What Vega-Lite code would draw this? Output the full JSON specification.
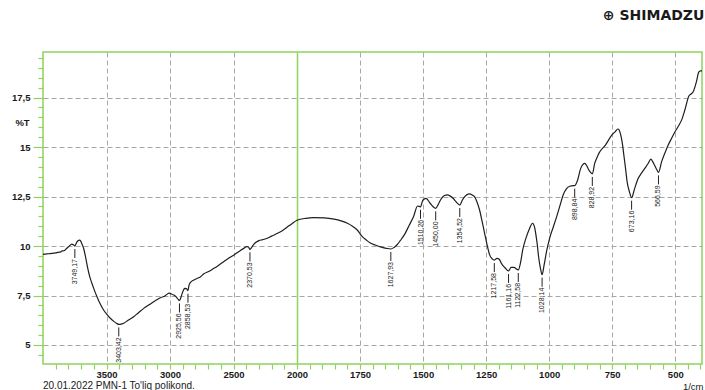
{
  "$schema": "https://vega.github.io/schema/vega-lite/v6.json",
  "width": 659,
  "height": 312,
  "autosize": {"type": "none"},
  "padding": {"left": 43, "top": 52, "right": 3, "bottom": 26},
  "background": "#ffffff",
  "config": {
    "view": {"stroke": "#8fd35c", "strokeWidth": 1.5},
    "font": "Liberation Sans"
  },
  "title": {
    "text": "⊕ SHIMADZU",
    "orient": "top",
    "anchor": "end",
    "offset": 22,
    "baseline": "middle",
    "font": "DejaVu Sans",
    "fontSize": 14,
    "fontWeight": "bold",
    "color": "#1a1a1a"
  },
  "datasets": {
    "spectrum": [
      {"wn": 4000, "t": 9.58}, {"wn": 3970, "t": 9.6}, {"wn": 3945, "t": 9.62}, {"wn": 3900, "t": 9.65},
      {"wn": 3881, "t": 9.68}, {"wn": 3860, "t": 9.7}, {"wn": 3850, "t": 9.75}, {"wn": 3835, "t": 9.76},
      {"wn": 3818, "t": 9.85}, {"wn": 3795, "t": 9.98}, {"wn": 3773, "t": 10.1}, {"wn": 3760, "t": 10.06},
      {"wn": 3749.17, "t": 10.0}, {"wn": 3735, "t": 10.18}, {"wn": 3722, "t": 10.28}, {"wn": 3713, "t": 10.3},
      {"wn": 3703, "t": 10.25}, {"wn": 3693, "t": 10.1}, {"wn": 3681, "t": 9.9}, {"wn": 3665, "t": 9.45},
      {"wn": 3650, "t": 8.95}, {"wn": 3632, "t": 8.45}, {"wn": 3615, "t": 8.12}, {"wn": 3595, "t": 7.76},
      {"wn": 3575, "t": 7.44}, {"wn": 3550, "t": 7.08}, {"wn": 3523, "t": 6.77}, {"wn": 3495, "t": 6.53},
      {"wn": 3470, "t": 6.35}, {"wn": 3440, "t": 6.18}, {"wn": 3417, "t": 6.08}, {"wn": 3403.42, "t": 6.04},
      {"wn": 3385, "t": 6.05}, {"wn": 3365, "t": 6.1}, {"wn": 3330, "t": 6.25}, {"wn": 3286, "t": 6.43},
      {"wn": 3250, "t": 6.62}, {"wn": 3207, "t": 6.85}, {"wn": 3165, "t": 7.03}, {"wn": 3128, "t": 7.19},
      {"wn": 3100, "t": 7.3}, {"wn": 3075, "t": 7.39}, {"wn": 3040, "t": 7.48}, {"wn": 3020, "t": 7.58},
      {"wn": 3009, "t": 7.62}, {"wn": 2990, "t": 7.58}, {"wn": 2970, "t": 7.52}, {"wn": 2950, "t": 7.42},
      {"wn": 2935, "t": 7.3}, {"wn": 2925.56, "t": 7.25}, {"wn": 2915, "t": 7.38}, {"wn": 2904, "t": 7.61},
      {"wn": 2890, "t": 7.82}, {"wn": 2885, "t": 7.86}, {"wn": 2870, "t": 7.85}, {"wn": 2858.53, "t": 7.74},
      {"wn": 2851, "t": 8.0}, {"wn": 2840, "t": 8.15}, {"wn": 2812, "t": 8.28}, {"wn": 2780, "t": 8.38},
      {"wn": 2759, "t": 8.45}, {"wn": 2733, "t": 8.6}, {"wn": 2700, "t": 8.7}, {"wn": 2660, "t": 8.85},
      {"wn": 2627, "t": 8.98}, {"wn": 2575, "t": 9.22}, {"wn": 2530, "t": 9.42}, {"wn": 2496, "t": 9.55},
      {"wn": 2450, "t": 9.75}, {"wn": 2420, "t": 9.88}, {"wn": 2395, "t": 9.97}, {"wn": 2382, "t": 9.95},
      {"wn": 2370.53, "t": 9.83}, {"wn": 2360, "t": 9.9}, {"wn": 2345, "t": 10.05}, {"wn": 2320, "t": 10.2},
      {"wn": 2300, "t": 10.27}, {"wn": 2270, "t": 10.32}, {"wn": 2240, "t": 10.38}, {"wn": 2200, "t": 10.5},
      {"wn": 2153, "t": 10.64}, {"wn": 2110, "t": 10.8}, {"wn": 2074, "t": 10.97}, {"wn": 2040, "t": 11.13},
      {"wn": 2000, "t": 11.3}, {"wn": 1965, "t": 11.4}, {"wn": 1933, "t": 11.43}, {"wn": 1892, "t": 11.42},
      {"wn": 1853, "t": 11.36}, {"wn": 1825, "t": 11.27}, {"wn": 1800, "t": 11.15}, {"wn": 1780, "t": 11.0},
      {"wn": 1761, "t": 10.81}, {"wn": 1741, "t": 10.47}, {"wn": 1725, "t": 10.3}, {"wn": 1709, "t": 10.15},
      {"wn": 1690, "t": 10.05}, {"wn": 1669, "t": 9.96}, {"wn": 1645, "t": 9.88}, {"wn": 1627.93, "t": 9.85},
      {"wn": 1615, "t": 9.93}, {"wn": 1604, "t": 10.05}, {"wn": 1590, "t": 10.28}, {"wn": 1571, "t": 10.64},
      {"wn": 1555, "t": 11.05}, {"wn": 1538, "t": 11.48}, {"wn": 1522, "t": 12.02}, {"wn": 1510.26, "t": 11.98},
      {"wn": 1501, "t": 12.32}, {"wn": 1488, "t": 12.41}, {"wn": 1472, "t": 12.16}, {"wn": 1460, "t": 11.98},
      {"wn": 1450, "t": 11.9}, {"wn": 1438, "t": 12.15}, {"wn": 1427, "t": 12.41}, {"wn": 1415, "t": 12.55},
      {"wn": 1404, "t": 12.58}, {"wn": 1392, "t": 12.52}, {"wn": 1381, "t": 12.41}, {"wn": 1368, "t": 12.22},
      {"wn": 1354.52, "t": 12.07}, {"wn": 1345, "t": 12.3}, {"wn": 1335, "t": 12.49}, {"wn": 1318, "t": 12.63},
      {"wn": 1305, "t": 12.58}, {"wn": 1296, "t": 12.49}, {"wn": 1287, "t": 12.25}, {"wn": 1276, "t": 11.82},
      {"wn": 1266, "t": 11.25}, {"wn": 1256, "t": 10.64}, {"wn": 1246, "t": 10.05}, {"wn": 1236, "t": 9.55},
      {"wn": 1226, "t": 9.35}, {"wn": 1217.58, "t": 9.29}, {"wn": 1207, "t": 9.38}, {"wn": 1198, "t": 9.33},
      {"wn": 1190, "t": 9.13}, {"wn": 1175, "t": 8.9}, {"wn": 1161.16, "t": 8.74}, {"wn": 1151, "t": 8.92},
      {"wn": 1140, "t": 8.92}, {"wn": 1122.58, "t": 8.79}, {"wn": 1113, "t": 9.2}, {"wn": 1105, "t": 9.8},
      {"wn": 1092, "t": 10.4}, {"wn": 1079, "t": 10.85}, {"wn": 1066, "t": 11.15}, {"wn": 1058, "t": 10.95},
      {"wn": 1053, "t": 10.6}, {"wn": 1047, "t": 10.05}, {"wn": 1042, "t": 9.46}, {"wn": 1035, "t": 8.9},
      {"wn": 1028.14, "t": 8.55}, {"wn": 1020, "t": 9.05}, {"wn": 1010, "t": 9.75}, {"wn": 997, "t": 10.45},
      {"wn": 984, "t": 10.95}, {"wn": 970, "t": 11.5}, {"wn": 957, "t": 12.05}, {"wn": 944, "t": 12.6},
      {"wn": 931, "t": 12.9}, {"wn": 918, "t": 13.02}, {"wn": 905, "t": 13.05}, {"wn": 898.84, "t": 13.05},
      {"wn": 888, "t": 13.3}, {"wn": 875, "t": 13.92}, {"wn": 866, "t": 14.12}, {"wn": 859, "t": 14.17},
      {"wn": 852, "t": 14.08}, {"wn": 846, "t": 13.92}, {"wn": 836, "t": 13.72}, {"wn": 828.92, "t": 13.64},
      {"wn": 819, "t": 14.2}, {"wn": 811, "t": 14.45}, {"wn": 803, "t": 14.68}, {"wn": 777, "t": 15.1},
      {"wn": 751, "t": 15.61}, {"wn": 738, "t": 15.78}, {"wn": 728, "t": 15.91}, {"wn": 722, "t": 15.85},
      {"wn": 717, "t": 15.65}, {"wn": 710, "t": 15.2}, {"wn": 704, "t": 14.6}, {"wn": 697, "t": 13.9},
      {"wn": 691, "t": 13.25}, {"wn": 682, "t": 12.75}, {"wn": 673.16, "t": 12.44}, {"wn": 661, "t": 12.91},
      {"wn": 647, "t": 13.42}, {"wn": 634, "t": 13.68}, {"wn": 621, "t": 13.92}, {"wn": 607, "t": 14.18},
      {"wn": 597, "t": 14.39}, {"wn": 589, "t": 14.25}, {"wn": 581, "t": 14.05}, {"wn": 573, "t": 13.85},
      {"wn": 566.59, "t": 13.72}, {"wn": 554, "t": 14.26}, {"wn": 541, "t": 14.7}, {"wn": 528, "t": 15.1},
      {"wn": 515, "t": 15.43}, {"wn": 501, "t": 15.77}, {"wn": 488, "t": 16.05}, {"wn": 475, "t": 16.36},
      {"wn": 462, "t": 16.87}, {"wn": 446, "t": 17.58}, {"wn": 437, "t": 17.68}, {"wn": 429, "t": 17.79},
      {"wn": 416, "t": 18.3}, {"wn": 407, "t": 18.78}, {"wn": 400, "t": 18.85}, {"wn": 394, "t": 18.85}
    ],
    "peaks": [
      {"wn": 3749.17, "t": 10.0, "label": "3749,17"},
      {"wn": 3403.42, "t": 6.04, "label": "3403,42"},
      {"wn": 2925.56, "t": 7.25, "label": "2925,56"},
      {"wn": 2858.53, "t": 7.74, "label": "2858,53"},
      {"wn": 2370.53, "t": 9.83, "label": "2370,53"},
      {"wn": 1627.93, "t": 9.85, "label": "1627,93"},
      {"wn": 1510.26, "t": 11.98, "label": "1510,26"},
      {"wn": 1450.0, "t": 11.9, "label": "1450,00"},
      {"wn": 1354.52, "t": 12.07, "label": "1354,52"},
      {"wn": 1217.58, "t": 9.29, "label": "1217,58"},
      {"wn": 1161.16, "t": 8.74, "label": "1161,16"},
      {"wn": 1122.58, "t": 8.79, "label": "1122,58"},
      {"wn": 1028.14, "t": 8.55, "label": "1028,14"},
      {"wn": 898.84, "t": 13.05, "label": "898,84"},
      {"wn": 828.92, "t": 13.64, "label": "828,92"},
      {"wn": 673.16, "t": 12.44, "label": "673,16"},
      {"wn": 566.59, "t": 13.72, "label": "566,59"}
    ]
  },
  "layer": [
    {
      "data": {"name": "spectrum"},
      "mark": {"type": "line", "color": "#1e1e1e", "strokeWidth": 1.2, "interpolate": "monotone"},
      "encoding": {
        "x": {
          "field": "wn",
          "type": "quantitative",
          "scale": {"domain": [4000, 2000, 394], "range": [0, 254, 659], "nice": false, "zero": false},
          "axis": {
            "values": [3900, 3800, 3700, 3600, 3500, 3400, 3300, 3200, 3100, 3000, 2900, 2800, 2700, 2600, 2500, 2400, 2300, 2200, 2100, 2000,
                       1950, 1900, 1850, 1800, 1750, 1700, 1650, 1600, 1550, 1500, 1450, 1400, 1350, 1300, 1250, 1200, 1150, 1100, 1050, 1000,
                       950, 900, 850, 800, 750, 700, 650, 600, 550, 500, 450, 400],
            "tickCount": 200,
            "format": "d",
            "labelExpr": "(datum.value >= 2000 && datum.value % 500 === 0) || (datum.value < 2000 && datum.value % 250 === 0) ? datum.label : ''",
            "labelOverlap": false,
            "labelFlush": false,
            "labelFont": "Liberation Sans",
            "labelFontSize": 9.5,
            "labelFontWeight": "bold",
            "labelColor": "#1a1a1a",
            "labelPadding": 0,
            "domain": false,
            "tickColor": "#8fd35c",
            "tickSize": 5,
            "tickWidth": 1.2,
            "grid": true,
            "gridColor": {"condition": {"test": "datum.value === 2000", "value": "#8fd35c"}, "value": "#a8a8a8"},
            "gridDash": {"condition": {"test": "datum.value === 2000", "value": []}, "value": [5, 3]},
            "gridWidth": {"condition": {"test": "datum.value === 2000", "value": 1.5}, "value": 1},
            "gridOpacity": {"condition": {"test": "(datum.value >= 2000 && datum.value % 500 === 0) || (datum.value < 2000 && datum.value % 250 === 0)", "value": 1}, "value": 0},
            "title": "1/cm",
            "titleAnchor": "end",
            "titleAlign": "right",
            "titleBaseline": "alphabetic",
            "titleX": 660,
            "titleY": 25,
            "titleFont": "Liberation Sans",
            "titleFontSize": 9.5,
            "titleFontWeight": "normal",
            "titleColor": "#1a1a1a"
          }
        },
        "y": {
          "field": "t",
          "type": "quantitative",
          "scale": {"domain": [4.04, 19.8], "nice": false, "zero": false},
          "axis": {
            "values": [4.5, 5, 5.5, 6, 6.5, 7, 7.5, 8, 8.5, 9, 9.5, 10, 10.5, 11, 11.5, 12, 12.5, 13, 13.5, 14, 14.5, 15, 15.5, 16, 16.5, 17, 17.5, 18, 18.5, 19, 19.5],
            "tickCount": 200,
            "format": ".1~f",
            "labelExpr": "datum.value % 2.5 === 0 ? replace(datum.label, '.', ',') : ''",
            "labelOverlap": false,
            "labelFont": "Liberation Sans",
            "labelFontSize": 9.5,
            "labelFontWeight": "bold",
            "labelColor": "#1a1a1a",
            "labelPadding": 3,
            "domain": false,
            "tickColor": "#8fd35c",
            "tickWidth": 1.2,
            "tickSize": {"condition": {"test": "datum.value % 2.5 === 0", "value": 10}, "value": 5},
            "grid": true,
            "gridColor": "#a8a8a8",
            "gridDash": [5, 3],
            "gridOpacity": {"condition": {"test": "datum.value % 2.5 === 0", "value": 1}, "value": 0},
            "title": "%T",
            "titleAngle": 0,
            "titleAlign": "center",
            "titleBaseline": "middle",
            "titleX": -21,
            "titleY": 70,
            "titleFont": "Liberation Sans",
            "titleFontSize": 9.5,
            "titleFontWeight": "bold",
            "titleColor": "#1a1a1a"
          }
        }
      }
    },
    {
      "data": {"name": "peaks"},
      "mark": {"type": "rule", "color": "#222222", "strokeWidth": 1, "yOffset": 3, "y2Offset": 12},
      "encoding": {
        "x": {"field": "wn", "type": "quantitative"},
        "y": {"field": "t", "type": "quantitative"},
        "y2": {"field": "t"}
      }
    },
    {
      "data": {"name": "peaks"},
      "mark": {"type": "text", "angle": 270, "align": "right", "baseline": "middle", "dx": -13, "font": "Liberation Sans", "fontSize": 7, "color": "#222222"},
      "encoding": {
        "x": {"field": "wn", "type": "quantitative"},
        "y": {"field": "t", "type": "quantitative"},
        "text": {"field": "label"}
      }
    },
    {
      "data": {"values": [{}]},
      "mark": {"type": "text", "align": "left", "baseline": "alphabetic", "font": "Liberation Sans", "fontSize": 10, "color": "#1a1a1a", "text": "20.01.2022 PMN-1 To'liq polikond."},
      "encoding": {
        "x": {"datum": 4000, "type": "quantitative"},
        "y": {"datum": 2.78, "type": "quantitative"}
      }
    }
  ]
}
